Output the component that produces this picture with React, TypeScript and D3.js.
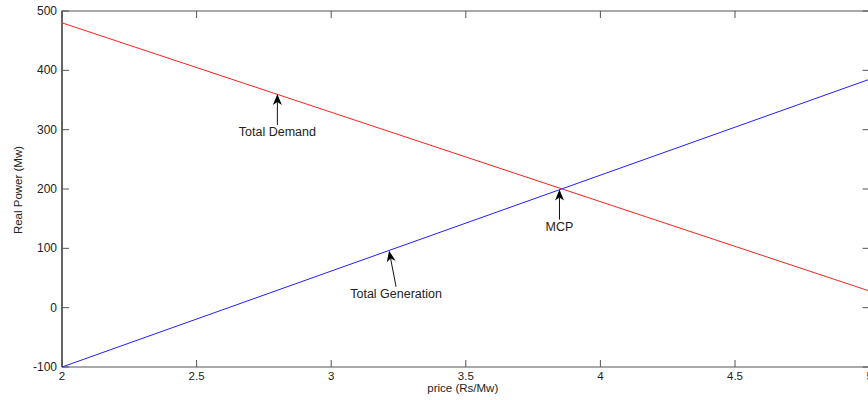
import * as React from "react";
import * as d3 from "d3";

// price axis (Rs/Mw)
const prices = [2, 5];
// Total Demand and Total Generation (Mw) at the price points
const demand = [480, 28];
const generation = [-100, 385];

const xTicks = [2, 2.5, 3, 3.5, 4, 4.5, 5];
const yTicks = [-100, 0, 100, 200, 300, 400, 500];

// arrow annotations: tip sits on a curve, text below the tail
const notes = [
  { label: "Total Demand", price: 2.8, value: 360, dx: 0, dy: 31 },
  { label: "Total Generation", price: 3.215, value: 96, dx: 7, dy: 36 },
  { label: "MCP", price: 3.848, value: 199, dx: 0, dy: 30 },
];

const width = 868;
const height = 400;
const left = 62;
const right = 869.6;
const top = 11;
const bottom = 367;
const font = "'Liberation Sans', Arial, sans-serif";

function drawChart(svgRef: React.RefObject<SVGSVGElement | null>) {
  const svg = d3.select(svgRef.current);
  svg.selectAll("*").remove();

  const x = d3.scaleLinear().domain([2, 5]).range([left, right]);
  const y = d3.scaleLinear().domain([-100, 500]).range([bottom, top]);
  const tick = 7;

  // box
  svg
    .append("rect")
    .attr("x", left)
    .attr("y", top)
    .attr("width", right - left)
    .attr("height", bottom - top)
    .attr("fill", "none")
    .attr("stroke", "#555")
    .attr("stroke-width", 1);

  // left axis a bit darker, like the reference
  svg.append("line")
    .attr("x1", left).attr("x2", left)
    .attr("y1", top).attr("y2", bottom)
    .attr("stroke", "#222");

  const g = svg.append("g").attr("font-family", font).attr("fill", "#222");

  // x ticks (inward, bottom and top)
  xTicks.forEach((t) => {
    g.append("line")
      .attr("x1", x(t)).attr("x2", x(t))
      .attr("y1", bottom).attr("y2", bottom - tick)
      .attr("stroke", "#555");
    g.append("line")
      .attr("x1", x(t)).attr("x2", x(t))
      .attr("y1", top).attr("y2", top + tick)
      .attr("stroke", "#555");
    g.append("text")
      .attr("x", x(t))
      .attr("y", bottom + 13)
      .attr("text-anchor", "middle")
      .attr("font-size", 11.5)
      .text(d3.format("")(t));
  });

  // y ticks (inward, left and right)
  yTicks.forEach((t) => {
    g.append("line")
      .attr("x1", left).attr("x2", left + tick)
      .attr("y1", y(t)).attr("y2", y(t))
      .attr("stroke", "#555");
    g.append("line")
      .attr("x1", right).attr("x2", right - tick)
      .attr("y1", y(t)).attr("y2", y(t))
      .attr("stroke", "#555");
    g.append("text")
      .attr("x", left - 5)
      .attr("y", y(t) + 4)
      .attr("text-anchor", "end")
      .attr("font-size", 12)
      .text(t);
  });

  g.append("text")
    .attr("x", (left + right) / 2 - 3)
    .attr("y", 392)
    .attr("text-anchor", "middle")
    .attr("font-size", 11.5)
    .text("price (Rs/Mw)");

  g.append("text")
    .attr("transform", `translate(22, ${(top + bottom) / 2 + 1}) rotate(-90)`)
    .attr("text-anchor", "middle")
    .attr("font-size", 11.5)
    .text("Real Power (Mw)");

  const line = d3
    .line<number>()
    .x((_d, i) => x(prices[i]))
    .y((d) => y(d));

  svg.append("path")
    .attr("d", line(demand))
    .attr("fill", "none")
    .attr("stroke", "#ff2020")
    .attr("stroke-width", 1);

  svg.append("path")
    .attr("d", line(generation))
    .attr("fill", "none")
    .attr("stroke", "#2020ff")
    .attr("stroke-width", 1);

  // annotations
  notes.forEach((n) => {
    const tx = x(n.price);
    const ty = y(n.value);
    const bx = tx + n.dx;
    const by = ty + n.dy;
    const ang = Math.atan2(ty - by, tx - bx);
    const len = 11;
    const half = 4.5;
    const back = 8;
    const ux = Math.cos(ang);
    const uy = Math.sin(ang);
    const px = -uy;
    const py = ux;
    const p1 = [tx - ux * len + px * half, ty - uy * len + py * half];
    const p2 = [tx - ux * back, ty - uy * back];
    const p3 = [tx - ux * len - px * half, ty - uy * len - py * half];

    svg.append("line")
      .attr("x1", bx).attr("y1", by)
      .attr("x2", tx - ux * back).attr("y2", ty - uy * back)
      .attr("stroke", "#111")
      .attr("stroke-width", 1);
    svg.append("path")
      .attr("d", `M${tx},${ty}L${p1[0]},${p1[1]}L${p2[0]},${p2[1]}L${p3[0]},${p3[1]}Z`)
      .attr("fill", "#000");

    g.append("text")
      .attr("x", bx)
      .attr("y", by + 11)
      .attr("text-anchor", "middle")
      .attr("font-size", 12.5)
      .text(n.label);
  });
}

export default function App() {
  const svgRef = React.useRef<SVGSVGElement>(null);
  React.useEffect(() => {
    drawChart(svgRef);
  }, []);
  return (
    <svg
      ref={svgRef}
      width={width}
      height={height}
      style={{ position: "absolute", left: 0, top: 0, background: "#fff" }}
    />
  );
}
